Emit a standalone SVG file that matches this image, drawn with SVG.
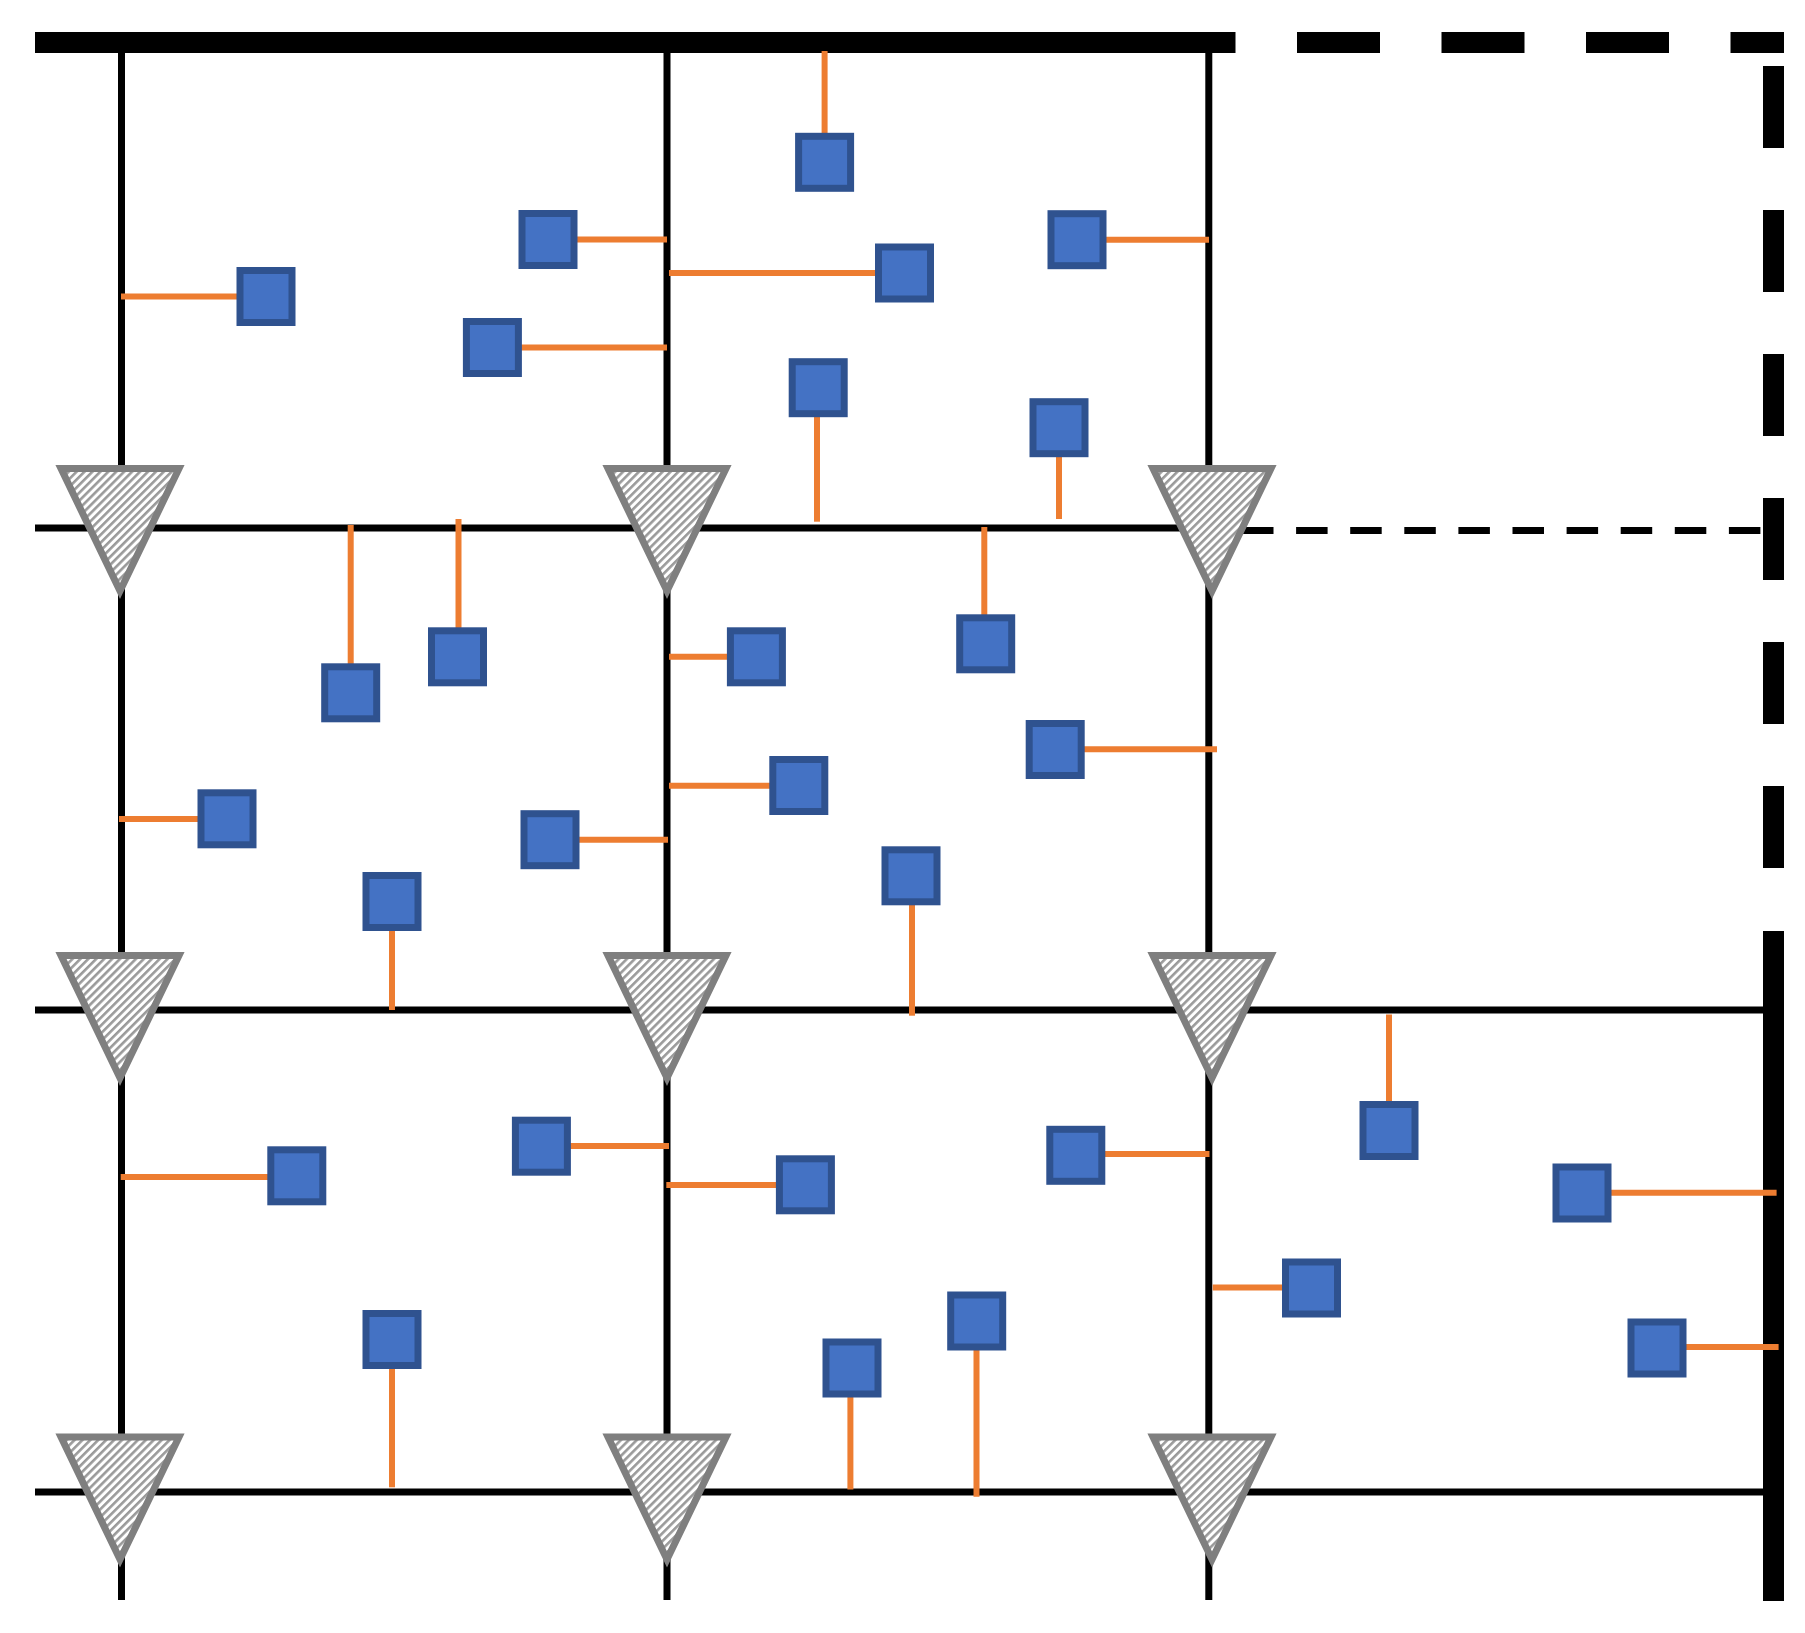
<svg xmlns="http://www.w3.org/2000/svg" width="1805" height="1633" viewBox="0 0 1805 1633">
<style>
.thick{stroke:#000;stroke-width:21;fill:none}
.thin{stroke:#000;stroke-width:7;fill:none}
.link{stroke:#ED7D31;stroke-width:6;fill:none}
.sq{fill:#4472C4;stroke:#2F528F;stroke-width:7}
.sup{fill:url(#hatch);stroke:#7F7F7F;stroke-width:7;stroke-linejoin:miter}
</style>
<defs>
<pattern id="hatch" width="5.6" height="5.6" patternUnits="userSpaceOnUse" patternTransform="rotate(45)">
<rect width="5.6" height="5.6" fill="#ffffff"/>
<rect width="2.6" height="5.6" fill="#9a9a9a"/>
</pattern>
</defs>
<rect width="1805" height="1633" fill="#ffffff"/>
<g id="grid">
<line class="thick" x1="35" y1="42.5" x2="1235.5" y2="42.5"/>
<line class="thick" x1="1297" y1="42.5" x2="1784" y2="42.5" stroke-dasharray="83 61.5"/>
<line class="thick" x1="1773.5" y1="66" x2="1773.5" y2="870" stroke-dasharray="82 62"/>
<line class="thick" x1="1773.5" y1="931" x2="1773.5" y2="1601"/>
<line class="thin" x1="121.5" y1="53" x2="121.5" y2="1600"/>
<line class="thin" x1="667" y1="53" x2="667" y2="1600"/>
<line class="thin" x1="1208.8" y1="53" x2="1208.8" y2="1600"/>
<line class="thin" x1="35" y1="528" x2="1215" y2="528"/>
<line class="thin" x1="1242" y1="530.5" x2="1762" y2="530.5" stroke-dasharray="31.5 22.6"/>
<line class="thin" x1="35" y1="1010" x2="1763" y2="1010"/>
<line class="thin" x1="35" y1="1492" x2="1763" y2="1492"/>
</g>
<g id="connectors">
<line class="link" x1="121" y1="296.5" x2="240" y2="296.5"/>
<line class="link" x1="574" y1="239.5" x2="667" y2="239.5"/>
<line class="link" x1="518" y1="347.5" x2="667" y2="347.5"/>
<line class="link" x1="824.6" y1="51" x2="824.6" y2="137"/>
<line class="link" x1="669" y1="273" x2="879" y2="273"/>
<line class="link" x1="1103" y1="239.7" x2="1209" y2="239.7"/>
<line class="link" x1="817" y1="413" x2="817" y2="521.7"/>
<line class="link" x1="1059" y1="453" x2="1059" y2="519"/>
<line class="link" x1="350.7" y1="525" x2="350.7" y2="667"/>
<line class="link" x1="458.5" y1="519" x2="458.5" y2="631"/>
<line class="link" x1="119" y1="819" x2="201" y2="819"/>
<line class="link" x1="576" y1="839.7" x2="668" y2="839.7"/>
<line class="link" x1="392" y1="927" x2="392" y2="1010"/>
<line class="link" x1="669" y1="656.7" x2="730" y2="656.7"/>
<line class="link" x1="984.3" y1="527" x2="984.3" y2="618"/>
<line class="link" x1="1081" y1="749.3" x2="1217" y2="749.3"/>
<line class="link" x1="669" y1="785.7" x2="773" y2="785.7"/>
<line class="link" x1="912" y1="901" x2="912" y2="1015.7"/>
<line class="link" x1="120.7" y1="1177" x2="271" y2="1177"/>
<line class="link" x1="567" y1="1146" x2="669" y2="1146"/>
<line class="link" x1="392" y1="1365" x2="392" y2="1487.3"/>
<line class="link" x1="666.3" y1="1185" x2="779" y2="1185"/>
<line class="link" x1="1102" y1="1154" x2="1209.5" y2="1154"/>
<line class="link" x1="850.4" y1="1393" x2="850.4" y2="1489.5"/>
<line class="link" x1="976.5" y1="1346" x2="976.5" y2="1496.8"/>
<line class="link" x1="1389" y1="1014.5" x2="1389" y2="1105"/>
<line class="link" x1="1608" y1="1192.7" x2="1776.6" y2="1192.7"/>
<line class="link" x1="1212.7" y1="1287.6" x2="1286" y2="1287.6"/>
<line class="link" x1="1683" y1="1347" x2="1778.6" y2="1347"/>
</g>
<g id="supports">
<g id="support-1-1"><polygon class="sup" points="61,468.5 179,468.5 120,591"/></g>
<g id="support-1-2"><polygon class="sup" points="608,468.5 726,468.5 667,591"/></g>
<g id="support-1-3"><polygon class="sup" points="1153,468.5 1271,468.5 1212,591"/></g>
<g id="support-2-1"><polygon class="sup" points="61,955.5 179,955.5 120,1078"/></g>
<g id="support-2-2"><polygon class="sup" points="608,955.5 726,955.5 667,1078"/></g>
<g id="support-2-3"><polygon class="sup" points="1153,955.5 1271,955.5 1212,1078"/></g>
<g id="support-3-1"><polygon class="sup" points="61,1437 179,1437 120,1559.5"/></g>
<g id="support-3-2"><polygon class="sup" points="608,1437 726,1437 667,1559.5"/></g>
<g id="support-3-3"><polygon class="sup" points="1153,1437 1271,1437 1212,1559.5"/></g>
</g>
<g id="nodes">
<g id="n1"><rect class="sq" x="240" y="270.5" width="52" height="52"/></g>
<g id="n2"><rect class="sq" x="522" y="213.5" width="52" height="52"/></g>
<g id="n3"><rect class="sq" x="466.4" y="321.5" width="52" height="52"/></g>
<g id="n4"><rect class="sq" x="798.6" y="136.3" width="52" height="52"/></g>
<g id="n5"><rect class="sq" x="878.5" y="247" width="52" height="52"/></g>
<g id="n6"><rect class="sq" x="1051" y="213.7" width="52" height="52"/></g>
<g id="n7"><rect class="sq" x="792.2" y="361.7" width="52" height="52"/></g>
<g id="n8"><rect class="sq" x="1033" y="401.7" width="52" height="52"/></g>
<g id="n9"><rect class="sq" x="324.7" y="666.8" width="52" height="52"/></g>
<g id="n10"><rect class="sq" x="431.5" y="630.8" width="52" height="52"/></g>
<g id="n11"><rect class="sq" x="201" y="792.8" width="52" height="52"/></g>
<g id="n12"><rect class="sq" x="524" y="813.7" width="52" height="52"/></g>
<g id="n13"><rect class="sq" x="366" y="875.5" width="52" height="52"/></g>
<g id="n14"><rect class="sq" x="730.4" y="630.8" width="52" height="52"/></g>
<g id="n15"><rect class="sq" x="959.7" y="617.8" width="52" height="52"/></g>
<g id="n16"><rect class="sq" x="1029.2" y="723.5" width="52" height="52"/></g>
<g id="n17"><rect class="sq" x="772.8" y="759.5" width="52" height="52"/></g>
<g id="n18"><rect class="sq" x="885" y="849.8" width="52" height="52"/></g>
<g id="n19"><rect class="sq" x="270.8" y="1149.8" width="52" height="52"/></g>
<g id="n20"><rect class="sq" x="515.4" y="1120.2" width="52" height="52"/></g>
<g id="n21"><rect class="sq" x="366" y="1313.5" width="52" height="52"/></g>
<g id="n22"><rect class="sq" x="779.4" y="1158.8" width="52" height="52"/></g>
<g id="n23"><rect class="sq" x="1049.8" y="1129.3" width="52" height="52"/></g>
<g id="n24"><rect class="sq" x="826" y="1342" width="52" height="52"/></g>
<g id="n25"><rect class="sq" x="950.7" y="1295" width="52" height="52"/></g>
<g id="n26"><rect class="sq" x="1363" y="1104.5" width="52" height="52"/></g>
<g id="n27"><rect class="sq" x="1556" y="1167" width="52" height="52"/></g>
<g id="n28"><rect class="sq" x="1285.5" y="1262" width="52" height="52"/></g>
<g id="n29"><rect class="sq" x="1631" y="1322" width="52" height="52"/></g>
</g>
</svg>
